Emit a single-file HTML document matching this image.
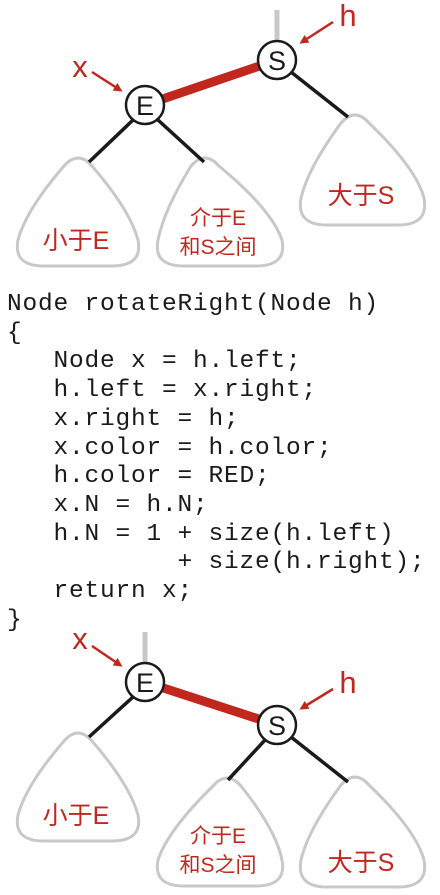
<!DOCTYPE html>
<html><head><meta charset="utf-8"><style>
html,body{margin:0;padding:0;background:#fff;width:440px;height:895px;overflow:hidden;position:relative}
pre{position:absolute;left:7px;top:291px;margin:0;font-family:"Liberation Mono",monospace;font-size:24.5px;letter-spacing:0.8px;line-height:28.7px;color:#1a1a1a}
svg{position:absolute;left:0;top:0}
</style></head><body>
<svg width="440" height="895" viewBox="0 0 440 895" font-family="'Liberation Sans','Noto Sans CJK SC',sans-serif">
<defs>
<path id="tl" d="M64,166 Q78,150 92,166 Q130,210 138,240 Q143,266 112,266 L44,266 Q13,266 18,240 Q26,210 64,166 Z"/>
<path id="tm" d="M191,166 Q205,150 219,166 Q272,210 282,240 Q287,266 256,266 L184,266 Q153,266 158,240 Q164,210 191,166 Z"/>
<path id="tm2" d="M213,786 Q227,770 241,786 Q276,830 282,860 Q287,886 256,886 L184,886 Q153,886 158,860 Q168,830 213,786 Z"/>
<path id="tr" d="M341,123 Q355,107 369,123 Q416,168 424,198 Q429,225 398,225 L327,225 Q296,225 301,198 Q308,168 341,123 Z"/>
<marker id="ah" markerWidth="9" markerHeight="9" refX="6" refY="4.5" orient="auto" markerUnits="userSpaceOnUse"><path d="M0,0 L9,4.5 L0,9 Z" fill="#c0281e"/></marker>
</defs>
<g fill="#fff" stroke="#c8c8c8" stroke-width="3">
<use href="#tl"/><use href="#tm"/><use href="#tr"/>
<use href="#tl" transform="translate(0,575)"/><use href="#tm2"/><use href="#tr" transform="translate(0,662)"/>
</g>
<!-- top tree -->
<line x1="277" y1="10" x2="277" y2="42" stroke="#c8c8c8" stroke-width="5"/>
<g stroke="#1a1a1a" stroke-width="3.5">
<line x1="133" y1="120" x2="89" y2="162"/><line x1="158" y1="120" x2="204" y2="162"/><line x1="291" y1="72" x2="348" y2="117"/>
</g>
<line x1="145" y1="105" x2="277" y2="60" stroke="#c0281e" stroke-width="9"/>
<circle cx="277" cy="60" r="19" fill="#fff" stroke="#1a1a1a" stroke-width="2.5"/>
<circle cx="145" cy="105" r="19" fill="#fff" stroke="#1a1a1a" stroke-width="2.5"/>
<text x="277" y="70" font-size="27" text-anchor="middle" fill="#1a1a1a">S</text>
<text x="145" y="115" font-size="27" text-anchor="middle" fill="#1a1a1a">E</text>
<line x1="333" y1="22" x2="302" y2="42" stroke="#c0281e" stroke-width="2.5" marker-end="url(#ah)"/>
<line x1="92" y1="72" x2="120" y2="90" stroke="#c0281e" stroke-width="2.5" marker-end="url(#ah)"/>
<text x="348" y="26" font-size="31" text-anchor="middle" fill="#c0281e">h</text>
<text x="80" y="77" font-size="31" text-anchor="middle" fill="#c0281e">x</text>
<g fill="#c0281e" text-anchor="middle">
<text x="76" y="249" font-size="25">小于E</text>
<text x="218" y="225" font-size="21">介于E</text>
<text x="218" y="254" font-size="21">和S之间</text>
<text x="361" y="204" font-size="25">大于S</text>
</g>
<!-- bottom tree -->
<line x1="145" y1="632" x2="145" y2="664" stroke="#c8c8c8" stroke-width="5"/>
<g stroke="#1a1a1a" stroke-width="3.5">
<line x1="133" y1="697" x2="89" y2="737"/><line x1="265" y1="740" x2="228" y2="780"/><line x1="291" y1="737" x2="348" y2="782"/>
</g>
<line x1="145" y1="682" x2="277" y2="725" stroke="#c0281e" stroke-width="9"/>
<circle cx="145" cy="682" r="19" fill="#fff" stroke="#1a1a1a" stroke-width="2.5"/>
<circle cx="277" cy="725" r="19" fill="#fff" stroke="#1a1a1a" stroke-width="2.5"/>
<text x="145" y="692" font-size="27" text-anchor="middle" fill="#1a1a1a">E</text>
<text x="277" y="735" font-size="27" text-anchor="middle" fill="#1a1a1a">S</text>
<line x1="333" y1="689" x2="302" y2="708" stroke="#c0281e" stroke-width="2.5" marker-end="url(#ah)"/>
<line x1="92" y1="646" x2="120" y2="665" stroke="#c0281e" stroke-width="2.5" marker-end="url(#ah)"/>
<text x="348" y="693" font-size="31" text-anchor="middle" fill="#c0281e">h</text>
<text x="80" y="649" font-size="31" text-anchor="middle" fill="#c0281e">x</text>
<g fill="#c0281e" text-anchor="middle">
<text x="76" y="824" font-size="25">小于E</text>
<text x="218" y="843" font-size="21">介于E</text>
<text x="218" y="872" font-size="21">和S之间</text>
<text x="361" y="871" font-size="25">大于S</text>
</g>
</svg>
<pre>Node rotateRight(Node h)
{
   Node x = h.left;
   h.left = x.right;
   x.right = h;
   x.color = h.color;
   h.color = RED;
   x.N = h.N;
   h.N = 1 + size(h.left)
           + size(h.right);
   return x;
}</pre>
</body></html>
